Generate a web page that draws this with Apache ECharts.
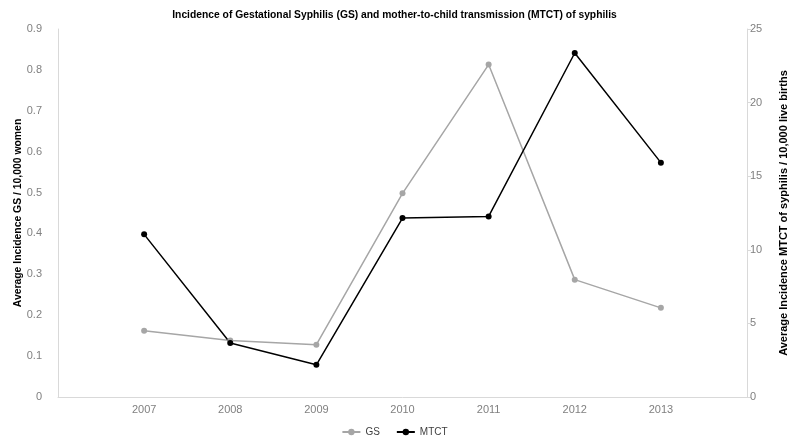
<!DOCTYPE html>
<html>
<head>
<meta charset="utf-8">
<script src="https://cdn.jsdelivr.net/npm/echarts@6/dist/echarts.min.js"></script>
<style>html,body{margin:0;padding:0;background:#fff}#c{width:789px;height:437px}</style>
</head>
<body>
<div id="c"></div>
<script>
var years = [2007, 2008, 2009, 2010, 2011, 2012, 2013];
var gsValues = [0.162, 0.138, 0.128, 0.498, 0.813, 0.287, 0.218];
var mtctValues = [11.05, 3.67, 2.19, 12.16, 12.27, 23.37, 15.92];
var leftTicks = {min: 0, max: 0.9, interval: 0.1};
var rightTicks = {min: 0, max: 25, interval: 5};

function pairs(xs, ys) { return xs.map(function (x, i) { return [x, ys[i]]; }); }

var chart = echarts.init(document.getElementById('c'), null, {renderer: 'canvas'});
var labelStyle = {color: '#808080', fontFamily: 'Liberation Sans', fontSize: 11};
chart.setOption({
  animation: false,
  title: {
    text: 'Incidence of Gestational Syphilis (GS) and mother-to-child transmission (MTCT) of syphilis',
    left: 'center', top: 5,
    textStyle: {fontFamily: 'Liberation Sans', fontSize: 10.3, fontWeight: 'bold', color: '#000'}
  },
  legend: {
    top: 422, left: 'center', itemWidth: 18, itemHeight: 8, itemGap: 16,
    textStyle: {fontFamily: 'Liberation Sans', fontSize: 10, color: '#404040'},
    data: ['GS', 'MTCT']
  },
  grid: {left: 58, right: 42, top: 29, bottom: 40, containLabel: false, outerBoundsMode: 'none'},
  xAxis: {
    type: 'value', min: 2006, max: 2014, interval: 1,
    axisLine: {lineStyle: {color: '#d9d9d9'}},
    axisTick: {show: false},
    splitLine: {show: false},
    axisLabel: Object.assign({}, labelStyle, {
      margin: 7,
      formatter: function (v) { return years.indexOf(v) >= 0 ? String(v) : ''; }
    })
  },
  yAxis: [
    {
      type: 'value', min: leftTicks.min, max: leftTicks.max, interval: leftTicks.interval,
      name: 'Average Incidence GS / 10,000 women', nameLocation: 'middle', nameGap: 35,
      nameMoveOverlap: false,
      nameTextStyle: {color: '#000', fontFamily: 'Liberation Sans', fontSize: 10.4, fontWeight: 'bold'},
      axisLine: {show: true, lineStyle: {color: '#d9d9d9'}},
      axisTick: {show: false},
      splitLine: {show: false},
      axisLabel: Object.assign({}, labelStyle, {margin: 16})
    },
    {
      type: 'value', min: rightTicks.min, max: rightTicks.max, interval: rightTicks.interval,
      name: 'Average Incidence MTCT of syphilis / 10,000 live births', nameLocation: 'middle', nameGap: 31,
      nameMoveOverlap: false,
      nameTextStyle: {color: '#000', fontFamily: 'Liberation Sans', fontSize: 11, fontWeight: 'bold'},
      axisLine: {show: true, lineStyle: {color: '#d9d9d9'}},
      axisTick: {show: true, length: 4, lineStyle: {color: '#d9d9d9'}},
      splitLine: {show: false},
      axisLabel: Object.assign({}, labelStyle, {margin: 3})
    }
  ],
  series: [
    {
      name: 'GS', type: 'line', yAxisIndex: 0, data: pairs(years, gsValues),
      symbol: 'circle', symbolSize: 6,
      lineStyle: {color: '#a6a6a6', width: 1.5},
      itemStyle: {color: '#a6a6a6'}
    },
    {
      name: 'MTCT', type: 'line', yAxisIndex: 1, data: pairs(years, mtctValues),
      symbol: 'circle', symbolSize: 6,
      lineStyle: {color: '#000', width: 1.5},
      itemStyle: {color: '#000'}
    }
  ]
});
</script>
</body>
</html>
